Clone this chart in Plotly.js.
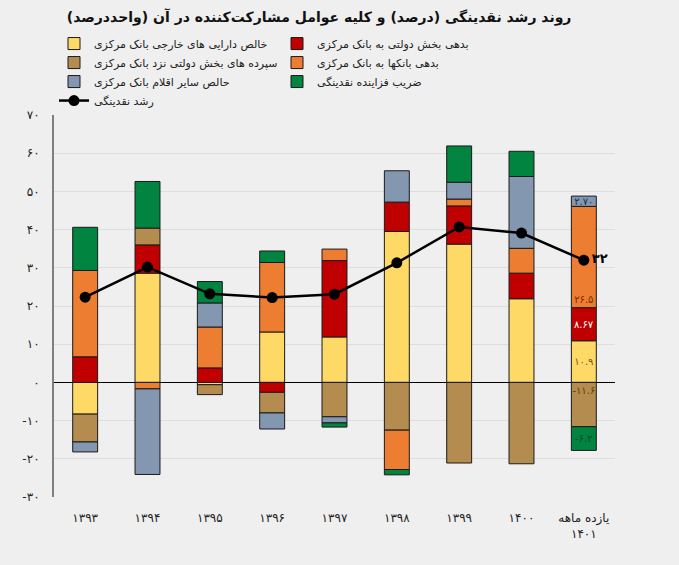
<!DOCTYPE html>
<html>
<head>
<meta charset="utf-8">
<script src="https://cdn.plot.ly/plotly-3.0.1.min.js"></script>
<style>html,body{margin:0;padding:0;background:#efefef;}</style>
</head>
<body>
<div id="chart" style="width:679px;height:565px;"></div>
<script>
// Categories (years)
var categories = ['۱۳۹۳','۱۳۹۴','۱۳۹۵','۱۳۹۶','۱۳۹۷','۱۳۹۸','۱۳۹۹','۱۴۰۰','یازده ماهه<br>۱۴۰۱'];

// Series values (percentage points)
var netForeignAssets   = [-8.3, 28.6, -0.6, 13.2, 11.9, 39.5, 36.2, 21.9, 10.9];
var govDebtToCB        = [6.7, 7.4, 3.8, -2.6, 20.0, 7.7, 10.0, 6.7, 8.67];
var govDepositsAtCB    = [-7.3, 4.4, -2.6, -5.4, -9.0, -12.5, -21.1, -21.3, -11.6];
var banksDebtToCB      = [22.6, -1.7, 10.7, 18.2, 3.0, -10.3, 1.8, 6.5, 26.5];
var netOtherItems      = [-2.6, -22.4, 6.3, -4.2, -1.6, 8.2, 4.4, 18.8, 2.70];
var moneyMultiplier    = [11.3, 12.2, 5.6, 3.0, -1.1, -1.4, 9.5, 6.6, -6.2];
var liquidityGrowth    = [22.3, 30.2, 23.2, 22.2, 23.1, 31.3, 40.7, 39.1, 32];

// Labels shown on the last bar
var lastLabels = {
  netForeignAssets: '۱۰.۹',
  govDebtToCB: '۸.۶۷',
  banksDebtToCB: '۲۶.۵',
  govDepositsAtCB: '-۱۱.۶',
  netOtherItems: '۲.۷۰',
  moneyMultiplier: '-۶.۲',
  liquidityGrowth: '۳۲'
};

var yTickVals = [-30,-20,-10,0,10,20,30,40,50,60,70];
var yTickText = ['-۳۰','-۲۰','-۱۰','۰','۱۰','۲۰','۳۰','۴۰','۵۰','۶۰','۷۰'];

var names = {
  netForeignAssets: 'خالص دارایی های خارجی بانک مرکزی',
  govDebtToCB: 'بدهی بخش دولتی به بانک مرکزی',
  banksDebtToCB: 'بدهی بانکها به بانک مرکزی',
  govDepositsAtCB: 'سپرده های بخش دولتی نزد بانک مرکزی',
  netOtherItems: 'حالص سایر اقلام بانک مرکزی',
  moneyMultiplier: 'ضریب فزاینده نقدینگی',
  liquidityGrowth: 'رشد نقدینگی'
};

function lastOnly(label, n) {
  var arr = [];
  for (var i = 0; i < n; i++) arr.push(i === n - 1 ? label : '');
  return arr;
}

var xIdx = categories.map(function(_, i){ return i; });
var n = categories.length;

function barTrace(key, vals, color, rank, textColor, anchor) {
  return {
    type: 'bar', x: xIdx, y: vals, name: names[key],
    marker: {color: color, line: {color: '#1a1a1a', width: 1}},
    width: 0.4, legendrank: rank,
    text: lastOnly(lastLabels[key], n), textposition: 'inside', textangle: 0,
    insidetextanchor: anchor, constraintext: 'none',
    textfont: {size: 10, color: textColor, family: 'DejaVu Sans'},
    hoverinfo: 'y'
  };
}

var data = [
  barTrace('netForeignAssets', netForeignAssets, '#FFD966', 1, '#6b5a1a', 'middle'),
  barTrace('govDebtToCB', govDebtToCB, '#C00000', 2, '#ffffff', 'middle'),
  barTrace('govDepositsAtCB', govDepositsAtCB, '#B48C50', 3, '#5a3e12', 'start'),
  barTrace('banksDebtToCB', banksDebtToCB, '#ED7D31', 4, '#7a2e00', 'start'),
  barTrace('netOtherItems', netOtherItems, '#8497B0', 5, '#1f3050', 'middle'),
  barTrace('moneyMultiplier', moneyMultiplier, '#00843F', 6, '#0a4a22', 'middle'),
  {
    type: 'scatter', mode: 'lines+markers+text', x: xIdx, y: liquidityGrowth,
    name: names.liquidityGrowth, legendrank: 7,
    line: {color: '#000000', width: 2.5},
    marker: {color: '#000000', size: 11},
    text: lastOnly(lastLabels.liquidityGrowth, n),
    textposition: 'middle right',
    textfont: {size: 13, color: '#000000', family: 'DejaVu Sans', weight: 'bold'}
  }
];

var layout = {
  width: 679, height: 565,
  paper_bgcolor: '#efefef', plot_bgcolor: '#efefef',
  barmode: 'relative',
  margin: {l: 54, r: 64, t: 115, b: 68},
  font: {family: 'DejaVu Sans', color: '#222'},
  title: {
    text: '<b>روند رشد نقدینگی (درصد) و کلیه عوامل مشارکت‌کننده در آن (واحددرصد)</b>',
    font: {size: 14, color: '#111', family: 'DejaVu Sans'},
    x: 0.47, xanchor: 'center', y: 0.978, yanchor: 'top'
  },
  showlegend: true,
  legend: {
    orientation: 'h', x: 0.0, xanchor: 'left', y: 1.225, yanchor: 'top',
    entrywidth: 178, entrywidthmode: 'pixels',
    font: {size: 11, color: '#222'}, bgcolor: 'rgba(0,0,0,0)',
    traceorder: 'normal', itemwidth: 30, tracegroupgap: 0
  },
  xaxis: {
    tickmode: 'array', tickvals: xIdx, ticktext: categories,
    range: [-0.5, 8.5], showgrid: false, zeroline: false,
    showline: false, ticks: '', ticklabelstandoff: 12,
    tickfont: {size: 12, color: '#222'}
  },
  yaxis: {
    range: [-30, 70], tickmode: 'array', tickvals: yTickVals, ticktext: yTickText,
    showgrid: true, gridcolor: '#dedede', gridwidth: 1,
    zeroline: true, zerolinecolor: '#000', zerolinewidth: 1,
    showline: true, linecolor: '#7f7f7f', linewidth: 2,
    ticks: '', ticklabelstandoff: 10,
    tickfont: {size: 12, color: '#222'}
  }
};

Plotly.newPlot('chart', data, layout, {displayModeBar: false});
</script>
</body>
</html>
